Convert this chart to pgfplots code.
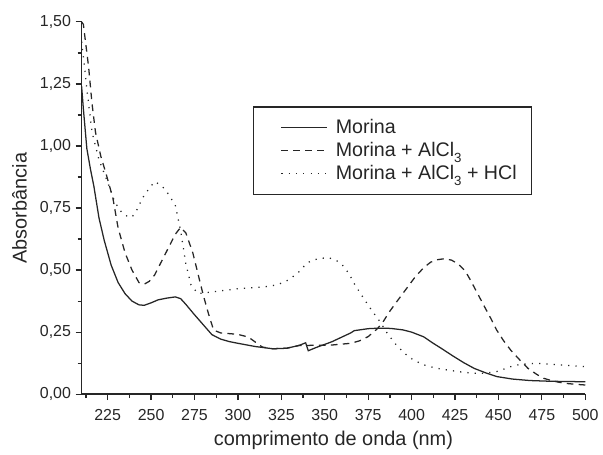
\documentclass[border=0pt]{standalone}
\usepackage{fontspec}
\setmainfont{Liberation Sans}
\usepackage{pgfplots}
\pgfplotsset{compat=1.18}
\definecolor{ink}{HTML}{262626}
\newcommand{\sub}[1]{\raisebox{-0.55ex}{\fontsize{10}{10}\selectfont #1}}

\begin{document}
\begin{tikzpicture}
\begin{axis}[
  name=ax,
  scale only axis,
  width=379.5pt, height=280.5pt,
  xmin=210, xmax=500, ymin=0, ymax=1.5,
  axis lines=left,
  axis line style={-, ink, line width=1.1pt},
  tick align=outside,
  tick style={ink, line width=0.9pt},
  major tick length=4.5pt,
  minor tick length=3pt,
  xtick={225,250,...,500},
  minor xtick={212.5,237.5,...,487.5},
  ytick={0,0.25,...,1.5},
  minor ytick={0.125,0.375,...,1.375},
  /pgf/number format/.cd, fixed, fixed zerofill, precision=2, use comma, assume math mode=true,
  /pgfplots/.cd,
  x tick label style={/pgf/number format/precision=0, /pgf/number format/fixed zerofill=false, yshift=-3.5pt},
  tick label style={font=\fontsize{12}{14}\selectfont, text=ink},
  xlabel={comprimento de onda (nm)},
  ylabel={Absorbância},
  xlabel style={yshift=-1pt},
  ylabel style={yshift=3pt},
  label style={font=\fontsize{15}{17}\selectfont, text=ink},
  legend cell align=left,
  legend style={at={(rel axis cs:0.340,0.773)}, anchor=north west,
    draw=ink, line width=0.9pt, font=\fontsize{14.8}{17}\selectfont, text=ink,
    inner xsep=9pt, inner ysep=7.5pt, row sep=1pt},
  legend image code/.code={\path[draw=none] (0pt,0pt) -- (51pt,0pt); \draw[#1, line width=0.9pt] (12pt,0pt) -- (46.5pt,0pt);},
  every axis plot/.append style={ink, line width=0.95pt},
]
\addplot[solid] coordinates {
(210,1.24) (211,1.15) (213,0.99) (215,0.91) (217,0.84) (220,0.71) (223,0.62)
(227,0.52) (231,0.45) (235,0.405) (239,0.375) (243,0.36) (246,0.358) (250,0.368)
(254,0.38) (259,0.387) (264,0.392) (267,0.385) (270,0.362) (275,0.32) (280,0.28)
(285,0.24) (290,0.222) (295,0.212) (300,0.205) (310,0.192) (320,0.183) (328,0.185)
(335,0.196) (339,0.207) (340.5,0.175) (345,0.188) (354,0.211) (365,0.247) (367,0.256)
(375,0.264) (381,0.266) (388,0.265) (395,0.259) (400,0.25) (407,0.231) (412,0.207)
(417,0.185) (424,0.153) (430,0.127) (436,0.104) (443,0.085) (449,0.071) (458,0.061)
(468,0.055) (480,0.052) (490,0.051) (500,0.05)
};
\addlegendentry{Morina}
\addplot[dash pattern=on 5pt off 4pt] coordinates {
(210,1.5) (211,1.49) (214,1.32) (216,1.17) (218,1.055) (221,0.96) (224,0.89)
(228,0.79) (231,0.67) (235,0.57) (239,0.50) (243,0.45) (246,0.443) (249,0.455)
(252,0.48) (256,0.535) (260,0.59) (264,0.645) (267,0.672) (270,0.65) (274,0.57)
(277,0.485) (280,0.40) (283,0.325) (286,0.258) (290,0.247) (300,0.241) (306,0.23)
(310,0.21) (314,0.19) (320,0.183) (328,0.185) (335,0.196) (345,0.197) (354,0.198)
(365,0.205) (370,0.215) (375,0.232) (380,0.262) (383,0.285) (387,0.33) (392,0.378)
(397,0.425) (402,0.472) (407,0.51) (411,0.532) (415,0.542) (419,0.546) (423,0.54)
(427,0.524) (431,0.495) (434,0.458) (438,0.405) (442,0.352) (446,0.30) (449,0.258)
(453,0.215) (457,0.178) (462,0.14) (467,0.104) (472,0.08) (476,0.064) (482,0.052)
(488,0.044) (494,0.04) (500,0.037)
};
\addlegendentry{Morina + AlCl\sub{3}}
\addplot[dash pattern=on 0.9pt off 4.6pt] coordinates {
(210,1.42) (211,1.36) (213,1.23) (216,1.055) (220,0.945) (223,0.89) (226,0.835)
(229,0.775) (233,0.733) (236,0.718) (239,0.713) (242,0.745) (245,0.79) (249,0.83)
(252,0.856) (255,0.845) (258,0.826) (261,0.795) (264,0.759) (267,0.659) (270,0.525)
(273,0.44) (277,0.405) (285,0.412) (300,0.425) (315,0.432) (322,0.44) (327,0.452)
(331,0.47) (335,0.492) (340,0.53) (346,0.546) (352,0.55) (356,0.542) (360,0.522)
(364,0.485) (367,0.445) (372,0.39) (377,0.338) (382,0.29) (386,0.245) (391,0.2)
(396,0.164) (401,0.138) (407,0.118) (414,0.105) (421,0.097) (428,0.09) (436,0.084)
(443,0.085) (449,0.091) (454,0.103) (459,0.116) (466,0.122) (472,0.124) (486,0.118)
(500,0.111)
};
\addlegendentry{Morina + AlCl\sub{3} + HCl}
\end{axis}
\path ([xshift=-61.5pt,yshift=-40.5pt]ax.south west) rectangle ([xshift=11.25pt,yshift=16.5pt]ax.north east);
\end{tikzpicture}
\end{document}
